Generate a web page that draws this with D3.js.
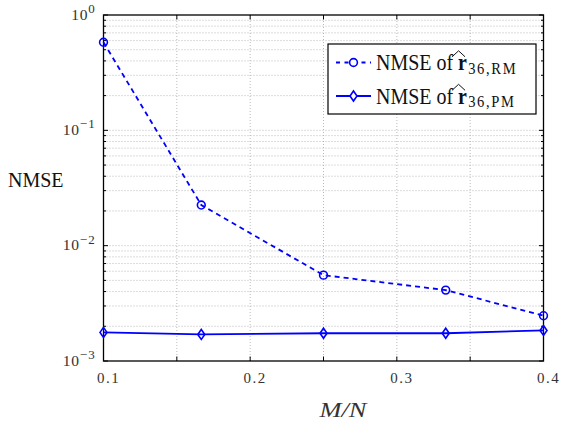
<!DOCTYPE html>
<html><head><meta charset="utf-8">
<script src="https://cdn.jsdelivr.net/npm/d3@7"></script>
<style>body{margin:0;background:#fff}svg{display:block}</style>
</head><body><svg id="c" width="562" height="428"></svg>
<script>
const xValues = [1/10, 1/6, 1/4, 1/3, 2/5];
const nmseRM = [0.58, 0.0225, 0.00555, 0.00412, 0.00247];
const nmsePM = [0.00177, 0.0017, 0.00174, 0.00174, 0.00184];
const xTickLabels = [0.1, 0.2, 0.3, 0.4];
const xTicksAll = [0.1, 0.15, 0.2, 0.25, 0.3, 0.35, 0.4];
const yExponents = [0, -1, -2, -3];
const seriesNames = ["RM", "PM"];

const svg = d3.select("#c");
const L = 103.5, R = 543.5, T = 15, B = 361;
const x = d3.scaleLinear().domain([0.1, 0.4]).range([L, R]);
const y = d3.scaleLog().domain([1e-3, 1]).range([B, T]);
const serif = "Liberation Serif";
const blue = "#0000ff";

const yMinor = [];
for (let e = -3; e < 0; e++) for (let m = 2; m <= 9; m++) yMinor.push(m * Math.pow(10, e));
const yMajor = yExponents.map(e => Math.pow(10, e));

const grid = svg.append("g").attr("stroke", "#a8a8a8").attr("stroke-width", 0.8).attr("stroke-dasharray", "1,2");
grid.selectAll(".gx").data(xTicksAll.slice(1, -1)).join("line")
  .attr("x1", d => x(d)).attr("x2", d => x(d)).attr("y1", T).attr("y2", B);
grid.selectAll(".gy").data(yMinor.concat(yMajor.slice(1, -1))).join("line")
  .attr("y1", d => y(d)).attr("y2", d => y(d)).attr("x1", L).attr("x2", R);

const tk = svg.append("g").attr("stroke", "#000").attr("stroke-width", 1);
xTicksAll.forEach(v => {
  tk.append("line").attr("x1", x(v)).attr("x2", x(v)).attr("y1", B).attr("y2", B - 4.5);
  tk.append("line").attr("x1", x(v)).attr("x2", x(v)).attr("y1", T).attr("y2", T + 4.5);
});
yMajor.forEach(v => {
  tk.append("line").attr("y1", y(v)).attr("y2", y(v)).attr("x1", L).attr("x2", L + 4.5);
  tk.append("line").attr("y1", y(v)).attr("y2", y(v)).attr("x1", R).attr("x2", R - 4.5);
});
yMinor.forEach(v => {
  tk.append("line").attr("y1", y(v)).attr("y2", y(v)).attr("x1", L).attr("x2", L + 2.5);
  tk.append("line").attr("y1", y(v)).attr("y2", y(v)).attr("x1", R).attr("x2", R - 2.5);
});

svg.append("rect").attr("x", L).attr("y", T).attr("width", R - L).attr("height", B - T)
  .attr("fill", "none").attr("stroke", "#000").attr("stroke-width", 1.3);

// x tick labels
svg.append("g").selectAll("text").data(xTickLabels).join("text")
  .attr("x", d => x(d) + 5).attr("y", 383).attr("text-anchor", "middle")
  .attr("font-family", serif).attr("font-size", 15).attr("fill", "#333")
  .attr("letter-spacing", 1.5)
  .text(d => d.toFixed(1));

// y tick labels
const yl = svg.append("g").selectAll("text").data(yExponents).join("text")
  .attr("x", 96).attr("y", d => y(Math.pow(10, d)) + 4.5).attr("text-anchor", "end")
  .attr("font-family", serif).attr("font-size", 15.5).attr("fill", "#333");
yl.append("tspan").attr("letter-spacing", 0.8).text("10");
yl.append("tspan").attr("dy", -6.5).attr("font-size", 13).attr("letter-spacing", 1.2)
  .text(d => d === 0 ? "0" : "\u2212" + (-d));

// axis titles
svg.append("text").attr("x", 319.5).attr("y", 416.5)
  .attr("font-family", serif).attr("font-style", "italic").attr("font-size", 21).attr("fill", "#333")
  .attr("textLength", 47).attr("lengthAdjust", "spacingAndGlyphs")
  .text("M/N");
svg.append("text").attr("x", 8).attr("y", 187)
  .attr("font-family", serif).attr("font-size", 20).attr("fill", "#111")
  .text("NMSE");

// data lines
const line = d3.line().x(d => x(d[0])).y(d => y(d[1]));
const rmData = xValues.map((v, i) => [v, nmseRM[i]]);
const pmData = xValues.map((v, i) => [v, nmsePM[i]]);
svg.append("path").datum(rmData).attr("d", line).attr("fill", "none")
  .attr("stroke", blue).attr("stroke-width", 1.8).attr("stroke-dasharray", "5,4");
svg.append("path").datum(pmData).attr("d", line).attr("fill", "none")
  .attr("stroke", blue).attr("stroke-width", 1.8);

const diamond = (cx, cy) => `M${cx},${cy - 5}L${cx + 3.5},${cy}L${cx},${cy + 5}L${cx - 3.5},${cy}Z`;
svg.append("g").selectAll("circle").data(rmData).join("circle")
  .attr("cx", d => x(d[0])).attr("cy", d => y(d[1])).attr("r", 3.9)
  .attr("fill", "none").attr("stroke", blue).attr("stroke-width", 1.6);
svg.append("g").selectAll("path").data(pmData).join("path")
  .attr("d", d => diamond(x(d[0]), y(d[1])))
  .attr("fill", "none").attr("stroke", blue).attr("stroke-width", 1.6);

// legend
const lg = svg.append("g");
lg.append("rect").attr("x", 328).attr("y", 44).attr("width", 208).attr("height", 70)
  .attr("fill", "#fff").attr("stroke", "#000").attr("stroke-width", 1.2);
const rows = [62.5, 96];
const sx = 0.832;
seriesNames.forEach((s, i) => {
  const cy = rows[i];
  const base = cy + 7.8;
  lg.append("line").attr("x1", 336).attr("x2", 371).attr("y1", cy).attr("y2", cy)
    .attr("stroke", blue).attr("stroke-width", 1.8).attr("stroke-dasharray", i === 0 ? "4,4.5" : null);
  if (i === 0) lg.append("circle").attr("cx", 353.5).attr("cy", cy).attr("r", 3.9)
    .attr("fill", "#fff").attr("stroke", blue).attr("stroke-width", 1.6);
  else lg.append("path").attr("d", diamond(353.5, cy)).attr("fill", "#fff")
    .attr("stroke", blue).attr("stroke-width", 1.6);
  const t = lg.append("text").attr("transform", `translate(376,${base}) scale(${sx},1)`)
    .attr("x", 0).attr("y", 0)
    .attr("font-family", serif).attr("font-size", 24).attr("fill", "#111");
  t.append("tspan").text("NMSE of ");
  const w = t.node().getComputedTextLength();
  t.append("tspan").attr("font-weight", "bold").text("r");
  t.append("tspan").attr("font-size", 17.5).attr("dy", 3.3).attr("dx", 1.5)
    .attr("letter-spacing", 2).text("36," + s);
  const hx = 376 + w * sx;
  lg.append("path").attr("d", `M${hx - 1},${base - 13.5}L${hx + 5.5},${base - 19.5}L${hx + 12},${base - 13.5}`)
    .attr("fill", "none").attr("stroke", "#111").attr("stroke-width", 1);
});
</script></body></html>
